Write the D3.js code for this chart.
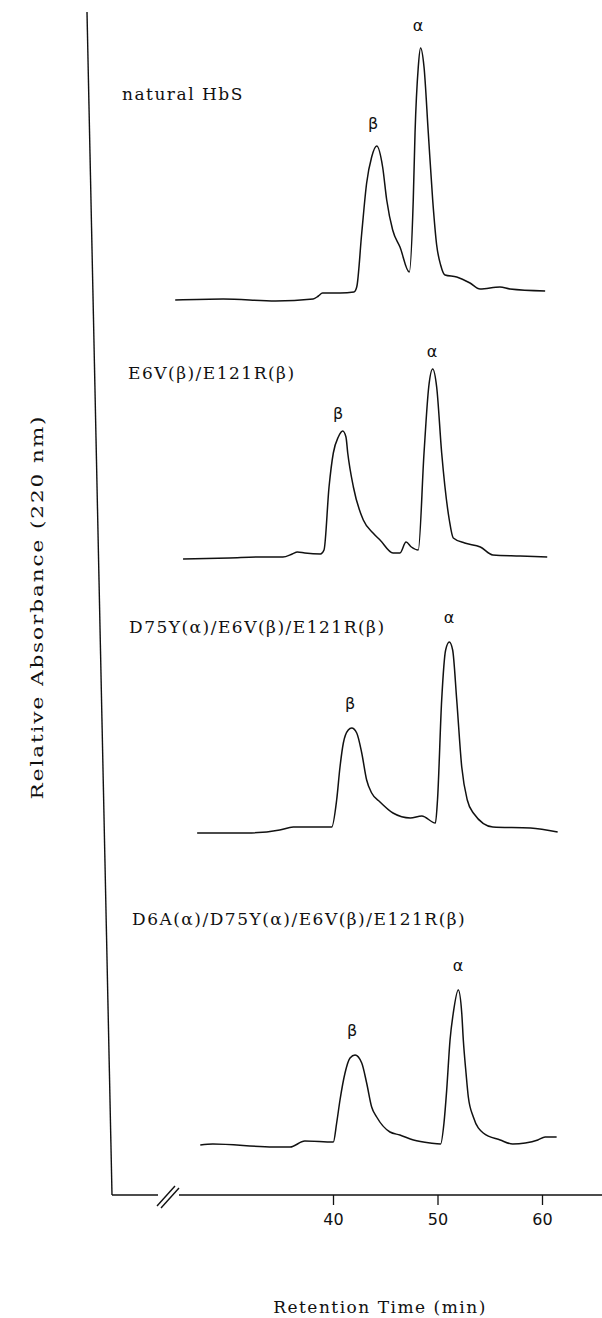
<!DOCTYPE html>
<html>
<head>
<meta charset="utf-8">
<script src="https://cdn.jsdelivr.net/npm/d3@7"></script>
<style>
  body { margin: 0; background: #fff; }
  .trace { fill: none; stroke: #111; stroke-width: 1.5; stroke-linejoin: round; }
  .title { font-family: "DejaVu Serif", serif; font-size: 17px; letter-spacing: 1.5px; fill: #111; }
  .peak { font-family: "DejaVu Sans", sans-serif; font-size: 16px; fill: #111; }
  .axis_Text { font-family: "DejaVu Serif", serif; font-size: 17px; letter-spacing: 1.5px; fill: #111; }
</style>
</head>
<body>
<script>
// chromatograms, [retention time (min), relative absorbance]
var traceNames = ["natural HbS", "E6V(β)/E121R(β)", "D75Y(α)/E6V(β)/E121R(β)", "D6A(α)/D75Y(α)/E6V(β)/E121R(β)"];

var naturalHbS = [[24.9,0],[29.5,0.01],[34.5,-0.01],[38.1,0.01],[38.6,0.04],[39.0,0.07],[40.7,0.07],[42.0,0.08],
    [42.27,0.13],[42.75,0.67],[43.22,1.17],[43.70,1.43],[44.18,1.54],[44.75,1.33],[45.14,1.0],[45.71,0.70],
    [46.41,0.53],[47.3,0.28],[47.68,1.0],[47.85,1.67],[48.16,2.33],[48.38,2.52],[48.71,2.33],[49.12,1.67],
    [49.54,1.0],[49.92,0.55],[50.3,0.35],[50.72,0.25],[51.84,0.23],[53.11,0.17],[54.07,0.11],[55.98,0.13],
    [56.94,0.11],[60.3,0.09]];

var mutantA = [[25.65,0],[30.1,0.01],[33.0,0.02],[35.2,0.02],[36.1,0.05],[36.6,0.07],[37.3,0.06],[38.8,0.05],
    [39.14,0.09],[39.62,0.72],[40.03,1.06],[40.51,1.22],[40.93,1.28],[41.24,1.22],[41.41,1.06],[41.95,0.72],
    [42.9,0.39],[43.83,0.26],[44.50,0.19],[45.74,0.06],[46.41,0.06],[46.99,0.17],[47.5,0.12],[48.16,0.09],
    [48.71,1.06],[49.16,1.72],[49.54,1.90],[49.92,1.72],[50.40,1.06],[51.13,0.39],[51.51,0.21],[52.6,0.16],
    [54.1,0.12],[55.3,0.04],[57.9,0.03],[60.5,0.02]];

var mutantB = [[27.0,0],[31.8,0],[34.9,0.03],[36.2,0.06],[39.88,0.06],[40.35,0.33],[40.67,0.66],[40.99,0.90],
    [41.46,1.03],[41.79,1.05],[42.27,1.0],[42.75,0.80],[43.22,0.53],[43.70,0.40],[44.50,0.31],[45.74,0.20],
    [47.4,0.15],[48.5,0.17],[49.8,0.10],[50.0,0.33],[50.4,1.33],[50.78,1.83],[51.13,1.91],[51.45,1.83],
    [51.84,1.33],[52.32,0.66],[52.85,0.33],[53.43,0.20],[55.3,0.06],[58.9,0.05],[61.5,0.01]];

var mutantC = [[27.3,0.02],[28.5,0.03],[34.3,0],[35.9,0],[37.3,0.06],[40.03,0.05],[40.35,0.24],[40.67,0.47],
    [41.15,0.74],[41.63,0.89],[42.11,0.92],[42.75,0.84],[43.22,0.64],[43.70,0.40],[44.18,0.30],[45.45,0.15],
    [46.4,0.12],[47.7,0.07],[49.3,0.04],[50.3,0.03],[50.62,0.24],[50.88,0.57],[51.20,1.07],[51.51,1.34],
    [51.99,1.57],[52.32,1.34],[52.47,1.07],[52.73,0.74],[52.95,0.50],[53.43,0.30],[54.38,0.14],[56.0,0.07],
    [57.2,0.03],[58.4,0.04],[59.6,0.07],[60.3,0.10],[61.4,0.10]];

var traces = [naturalHbS, mutantA, mutantB, mutantC];

// peak labels: name and retention time where the label stands
var peakNames = ["β", "α"];
var peakTimes = [[43.83, 48.13], [40.48, 49.47], [41.63, 51.1], [41.82, 51.96]];

var xTicks = [40, 50, 60];

// layout
var width = 602, height = 1318;
var baselines = [300, 559, 833, 1147];
var titleX = [122, 128, 129, 132];
var titleY = [100, 379, 633, 925];
var peakOffset = [17.5, 12.5, 19.5, 19.5];
var axisY = 1195;

var svg = d3.select("body").append("svg")
    .attr("width", width)
    .attr("height", height);

var xScale = d3.scaleLinear()
    .domain([40, 60])
    .range([333, 542]);

var line = d3.line()
    .x(function(d) { return xScale(d[0]); })
    .curve(d3.curveMonotoneX);

traces.forEach(function(data, i){
    var yScale = d3.scaleLinear()
        .domain([0, 1])
        .range([baselines[i], baselines[i] - 100]);

    line.y(function(d) { return yScale(d[1]); });

    svg.append("path")
        .datum(data)
        .attr("class", "trace")
        .attr("d", line);

    svg.append("text")
        .attr("class", "title")
        .attr("x", titleX[i])
        .attr("y", titleY[i])
        .text(traceNames[i]);

    // label each peak just above its top
    peakTimes[i].forEach(function(t, k){
        var top = d3.max(data.filter(function(d){ return Math.abs(d[0] - t) < 0.7; }), function(d){ return d[1]; });
        svg.append("text")
            .attr("class", "peak")
            .attr("text-anchor", "middle")
            .attr("x", xScale(t))
            .attr("y", yScale(top) - peakOffset[i])
            .text(peakNames[k]);
    });
});

// y axis (slightly slanted like the original plot)
svg.append("line")
    .attr("x1", 87).attr("y1", 12)
    .attr("x2", 112).attr("y2", axisY)
    .attr("stroke", "#111")
    .attr("stroke-width", 1.4);

// x axis with a break
var xAxis = d3.axisBottom(xScale)
    .tickValues(xTicks)
    .tickSize(10)
    .tickPadding(9)
    .tickSizeOuter(0);

var gx = svg.append("g")
    .attr("transform", "translate(0," + axisY + ")")
    .call(xAxis);

gx.select(".domain").remove();
gx.selectAll(".tick line").attr("stroke", "#111").attr("stroke-width", 1.3);
gx.selectAll(".tick text")
    .attr("fill", "#111")
    .style("font-family", "DejaVu Sans, sans-serif")
    .style("font-size", "16px");

gx.append("line")
    .attr("x1", 112).attr("x2", 158)
    .attr("stroke", "#111").attr("stroke-width", 1.4);
gx.append("line")
    .attr("x1", 179).attr("x2", width)
    .attr("stroke", "#111").attr("stroke-width", 1.4);

[0, 4].forEach(function(dx){
    gx.append("line")
        .attr("x1", 157 + dx).attr("y1", 11 + dx / 2)
        .attr("x2", 175 + dx).attr("y2", -9 + dx / 2)
        .attr("stroke", "#111").attr("stroke-width", 1.4);
});

// axis titles
svg.append("text")
    .attr("class", "axis_Text")
    .attr("text-anchor", "middle")
    .attr("x", 380)
    .attr("y", 1313)
    .text("Retention Time (min)");

// the scan stretches the vertical title along its length
svg.append("text")
    .attr("class", "axis_Text")
    .attr("text-anchor", "middle")
    .attr("transform", "translate(43,607) rotate(-90) scale(1.27,1)")
    .text("Relative Absorbance (220 nm)");
</script>
</body>
</html>
